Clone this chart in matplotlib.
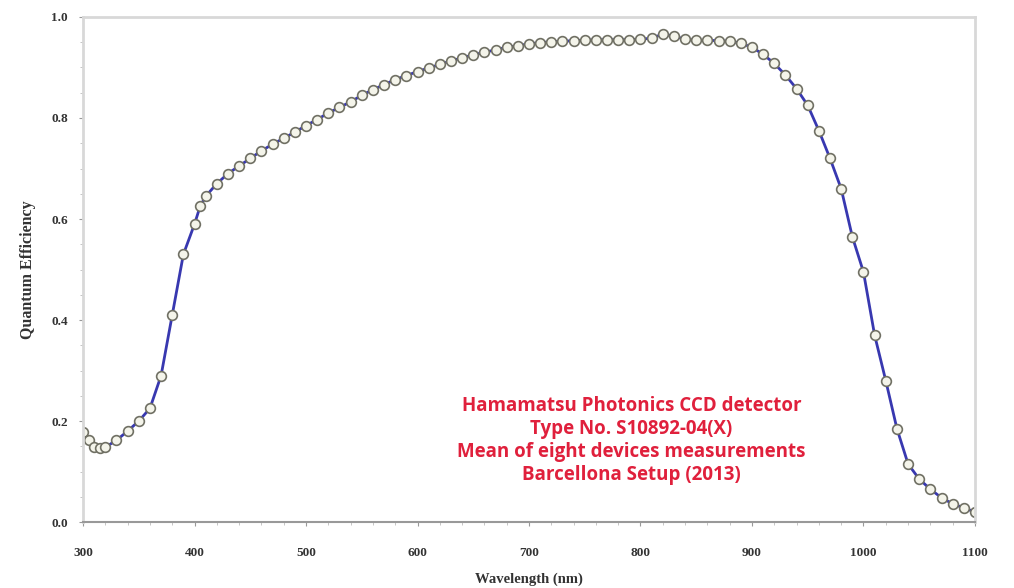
import matplotlib
matplotlib.use("Agg")
import matplotlib.pyplot as plt
from matplotlib.ticker import MultipleLocator

# Data
wavelength = [300, 305, 310, 315, 320, 330, 340, 350, 360, 370, 380, 390, 400, 405,
              410, 420, 430, 440, 450, 460, 470, 480, 490, 500, 510, 520, 530, 540,
              550, 560, 570, 580, 590, 600, 610, 620, 630, 640, 650, 660, 670, 680,
              690, 700, 710, 720, 730, 740, 750, 760, 770, 780, 790, 800, 810, 820,
              830, 840, 850, 860, 870, 880, 890, 900, 910, 920, 930, 940, 950, 960,
              970, 980, 990, 1000, 1010, 1020, 1030, 1040, 1050, 1060, 1070, 1080,
              1090, 1100]
qe = [0.178, 0.162, 0.148, 0.146, 0.148, 0.162, 0.180, 0.200, 0.225, 0.290, 0.410,
      0.530, 0.590, 0.625, 0.645, 0.670, 0.690, 0.705, 0.720, 0.735, 0.748, 0.760,
      0.772, 0.785, 0.797, 0.810, 0.821, 0.832, 0.845, 0.856, 0.866, 0.876, 0.884,
      0.892, 0.899, 0.906, 0.913, 0.919, 0.925, 0.930, 0.935, 0.940, 0.943, 0.947,
      0.949, 0.951, 0.952, 0.953, 0.954, 0.955, 0.955, 0.955, 0.955, 0.956, 0.958,
      0.966, 0.962, 0.956, 0.954, 0.954, 0.953, 0.952, 0.948, 0.940, 0.926, 0.908,
      0.885, 0.858, 0.825, 0.775, 0.720, 0.660, 0.565, 0.495, 0.370, 0.280, 0.185,
      0.115, 0.085, 0.065, 0.048, 0.036, 0.028, 0.020]

xticks = [300, 400, 500, 600, 700, 800, 900, 1000, 1100]
yticks = [0.0, 0.2, 0.4, 0.6, 0.8, 1.0]

note = ["Hamamatsu Photonics CCD detector",
        "Type No. S10892-04(X)",
        "Mean of eight devices measurements",
        "Barcellona Setup (2013)"]

fig = plt.figure(figsize=(10.14, 5.88), dpi=100)
ax = fig.add_axes([0.0819, 0.1122, 0.8796, 0.8589])

ax.plot(wavelength, qe, color="#3838b0", linewidth=2.0,
        marker="o", markersize=7, markerfacecolor="#f4f4ea",
        markeredgecolor="#707064", markeredgewidth=1.2)

ax.set_xlim(300, 1100)
ax.set_ylim(0, 1.0)
ax.set_xticks(xticks)
ax.set_yticks(yticks)
ax.set_yticklabels([f"{v:.1f}" for v in yticks])
ax.xaxis.set_minor_locator(MultipleLocator(20))
ax.yaxis.set_minor_locator(MultipleLocator(0.05))

for lbl in ax.get_xticklabels() + ax.get_yticklabels():
    lbl.set_fontfamily("Liberation Serif")
    lbl.set_fontweight("bold")
    lbl.set_fontsize(9.5)
    lbl.set_color("#333333")

ax.tick_params(axis="both", which="major", length=3, color="#999999")
ax.tick_params(axis="both", which="minor", length=2, color="#bbbbbb")
ax.tick_params(axis="x", pad=15)
ax.tick_params(axis="y", pad=8)

for side in ["top", "right", "left"]:
    ax.spines[side].set_color("#d8d8d8")
    ax.spines[side].set_linewidth(2)
ax.spines["bottom"].set_color("#999999")
ax.spines["bottom"].set_linewidth(1.5)

ax.set_xlabel("Wavelength (nm)", fontfamily="Liberation Serif", fontweight="bold",
              fontsize=10.5, color="#333333", labelpad=10)
ax.set_ylabel("Quantum Efficiency", fontfamily="Liberation Serif", fontweight="bold",
              fontsize=11.5, color="#333333")
ax.yaxis.set_label_coords(-0.053, 0.5)

ax.text(0.615, 0.162, "\n".join(note), transform=ax.transAxes,
        ha="center", va="center", fontfamily="Open Sans", fontweight="bold",
        fontsize=13.5, color="#e0203c", linespacing=1.2)

fig.savefig("out.png", dpi=100)
